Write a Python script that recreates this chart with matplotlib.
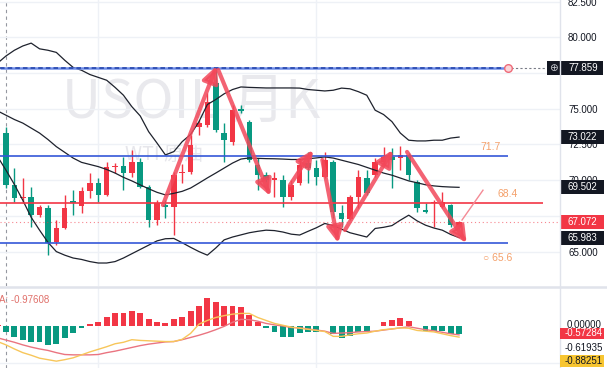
import numpy as np
import matplotlib
matplotlib.use('Agg')
import matplotlib.pyplot as plt
import matplotlib.transforms as mtransforms
from matplotlib.patches import Rectangle
from matplotlib.lines import Line2D

plt.rcParams['font.family'] = ['Liberation Sans', 'DejaVu Sans']

# ---------------- data (candle index -1 .. 54) ----------------
opens = [72.61, 73.31, 69.67, 68.78, 68.82, 67.56, 68.05, 65.67, 66.65, 68.54,
         68.19, 69.25, 69.81, 68.97, 70.93, 71.00, 70.51, 71.28, 69.53, 67.21,
         68.26, 68.12, 70.51, 70.58, 73.73, 73.87, 76.81, 73.31, 72.68, 74.99,
         74.08, 71.07, 70.37, 70.02, 70.02, 68.82, 69.81, 71.21, 70.86, 70.23,
         71.28, 67.70, 67.28, 68.82, 70.16, 70.37, 71.28, 71.63, 71.56, 71.77,
         69.88, 67.91, 68.40, 68.12, 68.26, 66.72]
highs = [73.70, 73.73, 70.86, 70.16, 69.53, 68.26, 68.26, 67.21, 68.97, 69.32,
         69.53, 70.51, 70.16, 71.28, 71.21, 71.63, 72.12, 71.56, 69.67, 68.61,
         68.61, 70.58, 71.14, 73.17, 74.22, 76.11, 77.86, 74.01, 75.27, 75.27,
         74.22, 71.56, 70.58, 70.58, 70.37, 70.02, 71.42, 71.98, 71.42, 71.98,
         71.42, 68.26, 68.97, 70.72, 70.72, 71.56, 72.33, 72.26, 72.40, 71.91,
         70.02, 68.40, 68.61, 69.18, 68.30, 67.14]
lows = [72.40, 69.46, 68.47, 68.40, 66.72, 67.42, 64.76, 65.46, 66.60, 67.56,
        67.70, 68.75, 68.47, 68.90, 70.51, 69.32, 70.23, 69.46, 66.72, 66.86,
        67.35, 66.16, 69.81, 70.40, 73.17, 73.73, 73.38, 71.28, 72.47, 74.71,
        71.28, 69.32, 69.88, 68.82, 68.12, 68.61, 69.67, 69.81, 69.67, 70.16,
        67.35, 66.72, 67.21, 68.05, 68.97, 70.23, 71.14, 69.46, 70.72, 70.02,
        67.77, 67.70, 66.72, 68.05, 66.72, 66.60]
closes = [73.38, 69.67, 68.75, 68.84, 67.56, 68.12, 65.60, 66.65, 68.05, 68.40,
          69.25, 69.81, 68.97, 70.93, 71.00, 70.51, 71.28, 69.53, 67.21, 68.40,
          68.12, 70.37, 70.58, 72.47, 74.01, 75.48, 73.52, 72.82, 74.92, 74.85,
          71.42, 70.37, 70.02, 70.16, 68.82, 69.67, 71.07, 70.86, 70.23, 71.42,
          67.77, 67.28, 68.82, 70.23, 69.11, 71.28, 71.63, 71.42, 71.77, 70.37,
          68.05, 67.77, 68.47, 68.47, 66.86, 67.07]

bb_upper = [78.2, 78.7, 79.1, 79.4, 79.6, 79.2, 79.1, 78.95, 78.4, 77.9,
            77.7, 77.4, 77.2, 77.0, 76.5, 75.95, 75.15, 74.5, 73.4, 72.6,
            71.77, 72.0, 72.7, 73.2, 74.1, 75.3, 75.65, 76.05, 76.35, 76.53,
            76.5, 76.48, 76.46, 76.46, 76.46, 76.46, 76.45, 76.35, 76.3, 76.25,
            76.3, 76.45, 76.4, 76.2, 75.95, 74.9, 74.6, 74.1, 73.3, 72.8,
            72.75, 72.75, 72.8, 72.8, 72.95, 73.02]
bb_mid = [74.85, 74.55, 74.25, 74.0, 73.65, 73.3, 72.85, 72.35, 71.95, 71.55,
          71.25, 71.1, 70.95, 70.75, 70.5, 70.2, 69.95, 69.67, 69.4, 69.15,
          68.97, 69.08, 69.22, 69.45, 69.8, 70.16, 70.5, 70.85, 71.2, 71.48,
          71.56, 71.53, 71.51, 71.5, 71.48, 71.45, 71.45, 71.5, 71.56, 71.63,
          71.55, 71.4, 71.25, 71.1, 70.9, 70.7, 70.5, 70.35, 70.15, 69.95,
          69.82, 69.68, 69.6, 69.55, 69.52, 69.5]
bb_lower = [71.65, 70.7, 69.7, 68.6, 67.4, 66.5, 65.65, 65.0, 64.75, 64.55,
            64.45, 64.3, 64.2, 64.2, 64.3, 64.55, 64.85, 65.15, 65.45, 65.75,
            65.9, 65.92, 65.62, 65.3, 65.0, 64.75, 65.25, 65.82, 66.02, 66.17,
            66.32, 66.42, 66.5, 66.47, 66.37, 66.22, 66.16, 66.42, 66.67, 66.97,
            66.82, 66.57, 66.32, 66.17, 66.02, 66.62, 66.7, 66.82, 67.2, 67.55,
            67.15, 66.85, 66.65, 66.5, 66.2, 65.98]

macd_hist = [0.03, -0.15, -0.31, -0.38, -0.44, -0.44, -0.51, -0.49, -0.33, -0.20,
             -0.06, 0.05, 0.12, 0.25, 0.36, 0.36, 0.41, 0.34, 0.18, 0.12,
             0.07, 0.18, 0.25, 0.41, 0.55, 0.75, 0.66, 0.55, 0.55, 0.51,
             0.30, 0.12, -0.06, -0.15, -0.29, -0.29, -0.20, -0.15, -0.15, 0.01,
             -0.22, -0.33, -0.27, -0.15, -0.14, -0.01, 0.10, 0.16, 0.21, 0.14,
             0.01, -0.14, -0.14, -0.14, -0.22, -0.22]
macd_fast = [-0.42, -0.51, -0.62, -0.72, -0.79, -0.87, -0.91, -0.95, -0.91, -0.86,
             -0.78, -0.70, -0.63, -0.56, -0.48, -0.44, -0.37, -0.39, -0.40, -0.41,
             -0.42, -0.42, -0.36, -0.20, 0.05, 0.15, 0.23, 0.28, 0.32, 0.34,
             0.34, 0.23, 0.15, 0.07, 0.02, -0.03, -0.06, -0.09, -0.12, -0.15,
             -0.28, -0.28, -0.24, -0.21, -0.19, -0.14, -0.10, -0.08, -0.05, -0.06,
             -0.12, -0.14, -0.16, -0.21, -0.26, -0.30]
macd_slow = [-0.32, -0.38, -0.44, -0.51, -0.57, -0.62, -0.66, -0.72, -0.77, -0.78,
             -0.78, -0.78, -0.77, -0.72, -0.68, -0.63, -0.58, -0.53, -0.49, -0.46,
             -0.43, -0.42, -0.37, -0.31, -0.25, -0.18, -0.10, -0.01, 0.10, 0.18,
             0.17, 0.13, 0.07, 0.03, 0.00, -0.04, -0.05, -0.08, -0.11, -0.14,
             -0.20, -0.19, -0.18, -0.16, -0.15, -0.14, -0.11, -0.08, -0.05, -0.02,
             -0.06, -0.10, -0.13, -0.17, -0.21, -0.24]

price_ticks = [65.0, 67.5, 70.0, 72.5, 75.0, 77.5, 80.0, 82.5]
price_tick_labels = ['65.000', '', '70.000', '72.500', '75.000', '', '80.000', '82.500']

peak_level = 77.859
blue_levels = [71.7, 65.6]
red_levels = [68.4]
level_texts = ['71.7', '68.4', '65.6']

# drawn trend arrows (candle index, price)
arrow_t0 = [18.7, 25.3, 33.85, 37.7, 40.4, 47.8]
arrow_p0 = [68.26, 77.72, 69.66, 71.42, 66.51, 71.98]
arrow_t1 = [25.1, 31.5, 36.6, 39.6, 46.1, 54.9]
arrow_p1 = [78.0, 68.89, 72.12, 65.6, 72.12, 65.6]
thin_t = [54.35, 56.85]
thin_p = [67.21, 69.3]

last_price = 67.072
price_labels = [73.022, 69.502, 67.072, 65.983]
macd_labels = ['0.00000', '-0.57284', '-0.61935', '-0.88251']
macd_title = 'A: -0.97608'

# ---------------- figure ----------------
W, H = 607, 368
fig = plt.figure(figsize=(W / 100, H / 100), dpi=100)
fig.patch.set_facecolor('white')
PANE_R = 560
P_BOT = 286
M_TOP = 288


def fx(px):
    return px / W


def fy(py):
    return 1 - py / H


axp = fig.add_axes([0, fy(P_BOT), fx(PANE_R), P_BOT / H])
axm = fig.add_axes([0, 0, fx(PANE_R), (H - M_TOP) / H])

RED = '#f23645'
GREEN = '#089981'
GRID = '#eef1f6'

x = np.arange(-1, 55)
XMIN, XMAX = -0.715, 66.03
axp.set_xlim(XMIN, XMAX)
axp.set_ylim(62.59, 82.62)
axm.set_xlim(XMIN, XMAX)
axm.set_ylim(-1.135, 1.027)

for ax in (axp, axm):
    for s in ax.spines.values():
        s.set_visible(False)
    ax.set_xticks([])
    ax.set_facecolor('white')
    for gx in (11, 37):
        ax.axvline(gx, color=GRID, lw=1, zorder=0)
    ax.axvline(0, color='#9598a1', lw=0.8, dashes=(3, 3), zorder=1)

axp.yaxis.tick_right()
axp.set_yticks(price_ticks)
axp.set_yticklabels(price_tick_labels)
axp.tick_params(axis='y', length=0, pad=5.8, labelsize=7, labelcolor='#131722')
axp.grid(axis='y', color=GRID, lw=1, zorder=0)
axm.set_yticks([])
axm.axhline(-1.0, color=GRID, lw=1, zorder=0)

# watermark
axp.text(62 / PANE_R, 1 - 103 / P_BOT, 'USOIL 月K', transform=axp.transAxes,
         fontsize=39, color='#e9e9ed', family=['Noto Sans CJK SC', 'DejaVu Sans'],
         ha='left', va='center', zorder=0.5)
axp.text(125 / PANE_R, 1 - 154 / P_BOT, 'WTI 原油', transform=axp.transAxes,
         fontsize=14, color='#e6e6eb', family=['Noto Sans CJK SC', 'DejaVu Sans'],
         ha='left', va='center', zorder=0.5)

# candles
o = np.array(opens); c = np.array(closes)
hi = np.array(highs); lo = np.array(lows)
cols = np.where(c >= o, RED, GREEN)
axp.vlines(x, lo, hi, colors=cols, lw=1, zorder=2)
axp.bar(x, np.maximum(np.abs(c - o), 0.07), bottom=np.minimum(o, c), width=0.66,
        color=cols, linewidth=0, zorder=3)

# bollinger bands
for band in (bb_upper, bb_mid, bb_lower):
    axp.plot(x, band, color='#1e222d', lw=0.9, zorder=4)

# level lines
axp.hlines(peak_level, XMIN, 59.5, color='#6f8de8', lw=1.8, zorder=5)
axp.hlines(peak_level, XMIN, 59.5, color='#1e3fa8', lw=1.1, linestyles=(0, (3, 2)), zorder=5)
for lv in blue_levels:
    axp.hlines(lv, XMIN, 59.8, color='#3558d8', lw=1.2, zorder=5)
for lv in red_levels:
    axp.hlines(lv, XMIN, 64.0, color=RED, lw=1.2, zorder=5)
axp.axhline(last_price, color=RED, lw=0.8, ls=(0, (1, 2.5)), alpha=0.6, zorder=4)

ORANGE = '#f4a06a'
axp.annotate(level_texts[0], xy=(57.8, blue_levels[0]), xytext=(0, 9), textcoords='offset pixels',
             ha='center', va='center', fontsize=7.5, color=ORANGE, zorder=6)
axp.annotate(level_texts[1], xy=(59.8, red_levels[0]), xytext=(0, 9), textcoords='offset pixels',
             ha='center', va='center', fontsize=7.5, color=ORANGE, zorder=6)
axp.annotate('○ ' + level_texts[2], xy=(58.6, blue_levels[1]), xytext=(0, -15), textcoords='offset pixels',
             ha='center', va='center', fontsize=7.5, color=ORANGE, zorder=6)

# arrows
for t0, p0, t1, p1 in zip(arrow_t0, arrow_p0, arrow_t1, arrow_p1):
    axp.annotate('', xy=(t1, p1), xytext=(t0, p0),
                 arrowprops=dict(arrowstyle='-|>,head_length=0.6,head_width=0.3', lw=3,
                                 color='#f2485a', alpha=0.85, shrinkA=0, shrinkB=0,
                                 mutation_scale=16), zorder=6)
axp.plot(thin_t, thin_p, color='#f48a95', lw=1, zorder=6)

# right-side label boxes for price pane
trans = mtransforms.blended_transform_factory(axp.transAxes, axp.transData)
bh = 14 / 14.28
axp.add_patch(Rectangle((547 / PANE_R, peak_level - bh / 2), 56 / PANE_R, bh, transform=trans,
                        clip_on=False, fc='#131722', ec='none', zorder=10))
axp.text(553 / PANE_R, peak_level, '⊕', transform=trans, ha='center', va='center',
         fontsize=7.5, color='#c8cad0', family=['DejaVu Sans'], zorder=11, clip_on=False)
axp.text(568 / PANE_R, peak_level, '%.3f' % peak_level, transform=trans, ha='left', va='center',
         fontsize=7, color='white', zorder=11, clip_on=False)
axp.plot([511 / PANE_R, 546 / PANE_R], [peak_level, peak_level], transform=trans,
         color='#787b86', lw=0.8, dashes=(2, 2), zorder=6)
axp.plot([508 / PANE_R], [peak_level], transform=trans, marker='o', ms=5.5,
         mfc='#fbd5d9', mec='#ee6a78', mew=1, zorder=7)

box_colors = ['#131722', '#131722', RED, '#131722']
for v, bc in zip(price_labels, box_colors):
    axp.add_patch(Rectangle((1.0, v - bh / 2), 44 / PANE_R, bh, transform=trans, clip_on=False,
                            fc=bc, ec='none', zorder=10))
    axp.text(567 / PANE_R, v, '%.3f' % v, transform=trans, ha='left', va='center',
             fontsize=7, color='white', zorder=11, clip_on=False)

# ---------------- MACD pane ----------------
h = np.array(macd_hist)
axm.bar(x, h, width=0.7, color=np.where(h >= 0, RED, GREEN), linewidth=0, zorder=2)
axm.plot(x, macd_slow, color='#ea7480', lw=1, zorder=3)
axm.plot(x, macd_fast, color='#f7c65a', lw=1, zorder=3)

fig.text(fx(-1), fy(300), macd_title, ha='left', va='center', fontsize=7, color='#e0706a')

# MACD right labels
fig.text(fx(567), fy(325), macd_labels[0], ha='left', va='center', fontsize=7, color='#131722')
fig.add_artist(Rectangle((fx(560), fy(339)), fx(604) - fx(560), 11 / H, transform=fig.transFigure,
                         fc=RED, ec='none', zorder=5))
fig.text(fx(565), fy(333.5), macd_labels[1], ha='left', va='center', fontsize=7, color='white', zorder=6)
fig.text(fx(565), fy(348), macd_labels[2], ha='left', va='center', fontsize=7, color='#131722')
fig.add_artist(Rectangle((fx(560), fy(367)), fx(604) - fx(560), 12 / H, transform=fig.transFigure,
                         fc='#f7c531', ec='none', zorder=5))
fig.text(fx(565), fy(361), macd_labels[3], ha='left', va='center', fontsize=7, color='#131722', zorder=6)

# separators
fig.add_artist(Line2D([0, 1], [fy(287), fy(287)], transform=fig.transFigure, color='#e0e3eb', lw=1.8))
fig.add_artist(Line2D([fx(560), fx(560)], [0, 1], transform=fig.transFigure, color='#e0e3eb', lw=1))

fig.savefig('out.png', dpi=100)
